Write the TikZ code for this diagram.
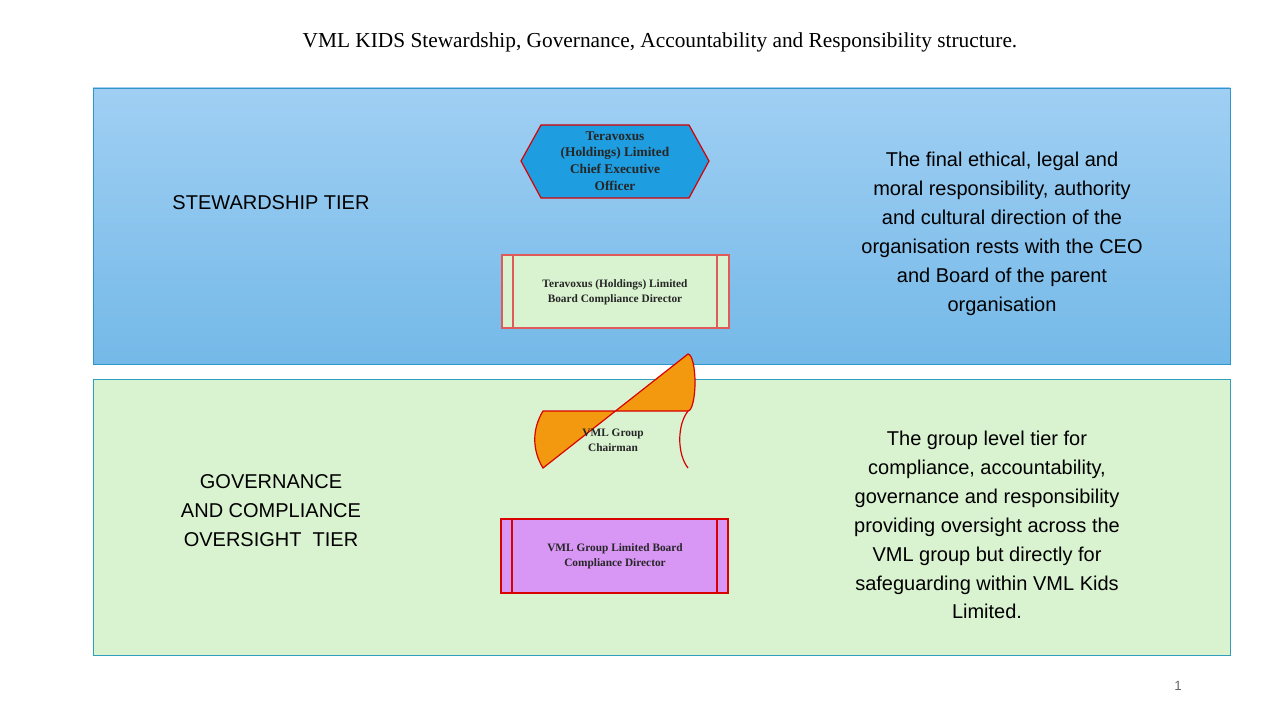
\documentclass[tikz,border=0pt]{standalone}
\usepackage{fontspec}
\setmainfont{Liberation Serif}
\setsansfont{Liberation Sans}
\begin{document}
\begin{tikzpicture}[x=0.75pt,y=-0.75pt,
  side/.style={font=\sffamily\fontsize{15}{21.7}\selectfont,align=center,text=black},
  lbl/.style={font=\sffamily\fontsize{15}{21.7}\selectfont,align=center},
  nb/.style={font=\bfseries\fontsize{9.5}{12}\selectfont,align=center,text=black!85},
  redline/.style={draw=red!85!black,line width=0.9pt}]
\useasboundingbox (0,0) rectangle (1280,720);
\fill[white] (0,0) rectangle (1280,720);
\node[font=\fontsize{16}{19}\selectfont] (title) at (660,42) {VML KIDS Stewardship, Governance, Accountability and Responsibility structure.};
% tiers
\shade[top color={rgb,255:red,160;green,207;blue,243},bottom color={rgb,255:red,116;green,185;blue,232}] (93,88) rectangle (1230,364);
\draw[draw={rgb,255:red,46;green,150;blue,205},line width=0.6pt] (93,88) rectangle (1230,364);
\draw[fill={rgb,255:red,217;green,242;blue,208},draw={rgb,255:red,46;green,160;blue,190},line width=0.6pt] (93,379) rectangle (1230,655);
\node[lbl] (st) at (271,203) {STEWARDSHIP TIER};
\node[lbl] (gt) at (271,511) {GOVERNANCE\\AND COMPLIANCE\\OVERSIGHT \ TIER};
\node[side] (d1) at (1002,234) {The final ethical, legal and\\moral responsibility, authority\\and cultural direction of the\\organisation rests with the CEO\\and Board of the parent\\organisation};
\node[side] (d2) at (987,525) {The group level tier for\\compliance, accountability,\\governance and responsibility\\providing oversight across the\\VML group but directly for\\safeguarding within VML Kids\\Limited.};
% hexagon
\draw[redline,fill={rgb,255:red,30;green,157;blue,224}] (521,161)--(541,125)--(689,125)--(709,161)--(689,198)--(541,198)--cycle;
\node[nb,font=\bfseries\fontsize{10}{12.5}\selectfont] (ceo) at (615,161) {Teravoxus\\(Holdings) Limited\\Chief Executive\\Officer};
% box1
\draw[draw={rgb,255:red,225;green,90;blue,90},line width=0.8pt,fill={rgb,255:red,217;green,242;blue,208}] (502,255) rectangle (729,328);
\draw[draw={rgb,255:red,225;green,90;blue,90},line width=0.8pt] (513,255)--(513,328) (717,255)--(717,328);
\node[nb,font=\bfseries\fontsize{8.5}{11}\selectfont] (bcd) at (615,292) {Teravoxus (Holdings) Limited\\Board Compliance Director};
% cylinder
\draw[redline,fill={rgb,255:red,242;green,153;blue,16}] (543,411)--(688,411) arc[start angle=90,end angle=-90,x radius=7,y radius=28.5]--(543,468) .. controls (532,450) and (532,429) .. cycle;
\draw[redline] (688,411) .. controls (677,425) and (677,454) .. (688,468);
\node[nb,font=\bfseries\fontsize{8.5}{11}\selectfont] (ch) at (613,440) {VML Group\\Chairman};
% box2
\draw[redline,fill={rgb,255:red,216;green,150;blue,245}] (501,519) rectangle (728,593);
\draw[redline] (512,519)--(512,593) (717,519)--(717,593);
\node[nb,font=\bfseries\fontsize{8.5}{11}\selectfont] (vcd) at (615,556) {VML Group Limited Board\\Compliance Director};
\node[font=\sffamily\fontsize{10}{12}\selectfont,text=black!60] (pg) at (1178,686) {1};
\end{tikzpicture}
\end{document}
